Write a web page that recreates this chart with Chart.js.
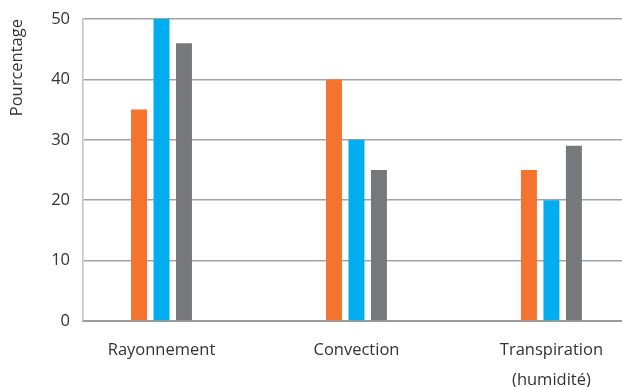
<!DOCTYPE html>
<html lang="fr">
<head>
<meta charset="UTF-8">
<title>Pourcentage</title>
<script src="https://cdn.jsdelivr.net/npm/chart.js@4.4.0/dist/chart.umd.min.js"></script>
<style>
    html, body { margin: 0; padding: 0; background: #fff; }
    #wrap { width: 622px; height: 387px; position: relative; }
</style>
</head>
<body>
<div id="wrap"><canvas id="chart"></canvas></div>
<script>
// categories and series
var categories = ['Rayonnement', 'Convection', ['Transpiration', '(humidité)']];
var serieOrange = [35, 40, 25];
var serieBleue = [50, 30, 20];
var serieGrise = [46, 25, 29];
var yTicks = [0, 10, 20, 30, 40, 50];

function points(values) {
    return values.map(function (v, i) { return { x: i, y: v }; });
}

var famille = "'Open Sans', sans-serif";

new Chart(document.getElementById('chart'), {
    type: 'bar',
    data: {
        datasets: [
            { data: points(serieOrange), backgroundColor: '#F3732F' },
            { data: points(serieBleue), backgroundColor: '#00AEEF' },
            { data: points(serieGrise), backgroundColor: '#77787B' }
        ]
    },
    options: {
        responsive: true,
        maintainAspectRatio: false,
        animation: false,
        categoryPercentage: 0.346,
        barPercentage: 0.71,
        layout: { padding: { top: 19, right: 0, left: 0, bottom: 0 } },
        plugins: { legend: { display: false }, tooltip: { enabled: false } },
        scales: {
            x: {
                type: 'linear',
                offset: false,
                min: -0.4026,
                max: 2.362,
                grid: { display: false, drawTicks: false, offset: false },
                border: { display: true, color: '#9b9b9b', width: 2 },
                afterBuildTicks: function (s) {
                    s.ticks = categories.map(function (c, i) { return { value: i }; });
                },
                afterFit: function (s) { s.height = 66; s.paddingLeft = 0; s.paddingRight = 0; },
                ticks: {
                    color: '#333',
                    padding: 14,
                    maxRotation: 0,
                    autoSkip: false,
                    font: { family: famille, size: 16.5, lineHeight: 1.85 },
                    callback: function (v) { return categories[v]; }
                }
            },
            y: {
                min: 0,
                max: 50,
                afterBuildTicks: function (s) {
                    s.ticks = yTicks.map(function (t) { return { value: t }; });
                },
                afterFit: function (s) { s.width = 83; s.paddingTop = 0; s.paddingBottom = 0; },
                grid: { color: '#a3a3a3', drawTicks: false, lineWidth: 1.5 },
                border: { display: true, color: '#c2c2c2', width: 1.5 },
                ticks: { color: '#333', padding: 13, font: { family: famille, size: 16.5 } },
                title: {
                    display: true,
                    text: 'Pourcentage',
                    align: 'end',
                    color: '#333',
                    padding: { top: 7, bottom: 0 },
                    font: { family: famille, size: 16.5 }
                }
            }
        }
    }
});
</script>
</body>
</html>
